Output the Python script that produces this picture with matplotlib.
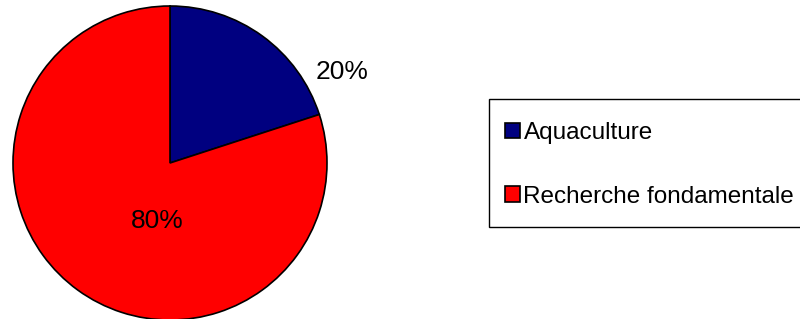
import matplotlib
matplotlib.use('Agg')
import matplotlib.pyplot as plt
from matplotlib.patches import Rectangle

plt.rcParams['font.family'] = ['Liberation Sans', 'DejaVu Sans']

categories = ['Aquaculture', 'Recherche fondamentale']
values = [20, 80]
colors = ['#000080', '#FF0000']

fig = plt.figure(figsize=(8, 3.19), dpi=100)
# axes en pixels : centre (170,163), rayon 157
ax = fig.add_axes([13 / 800, -1 / 319, 314 / 800, 314 / 319])

wedges, texts, autotexts = ax.pie(values, colors=colors, startangle=90, counterclock=False,
                                  autopct='%1.0f%%',
                                  wedgeprops=dict(edgecolor='black', linewidth=1.2),
                                  textprops=dict(fontsize=19, color='black'))
ax.set_xlim(-1, 1)
ax.set_ylim(-1, 1)
ax.set_aspect('equal')

# position des étiquettes comme dans le graphique d'origine
autotexts[0].set_position((1.095, 0.58))
autotexts[1].set_position((-0.083, -0.369))
for t in autotexts:
    t.set_clip_on(False)

# cadre de la légende (dépasse à droite)
fig.patches.append(Rectangle((489 / 800, 1 - 227 / 319), 330 / 800, 128 / 319,
                             transform=fig.transFigure, facecolor='white',
                             edgecolor='black', linewidth=1.0, zorder=0))

leg = fig.legend(wedges, categories, loc='upper left',
                 bbox_to_anchor=(487 / 800, 1 - 104 / 319),
                 fontsize=17.5, frameon=False, borderaxespad=0, borderpad=0.75,
                 handlelength=0.6, handleheight=0.6, handletextpad=0.15,
                 labelspacing=1.7)
for h in leg.legend_handles:
    h.set_edgecolor('black')
    h.set_linewidth(1.2)

plt.savefig('out.png', dpi=100)
